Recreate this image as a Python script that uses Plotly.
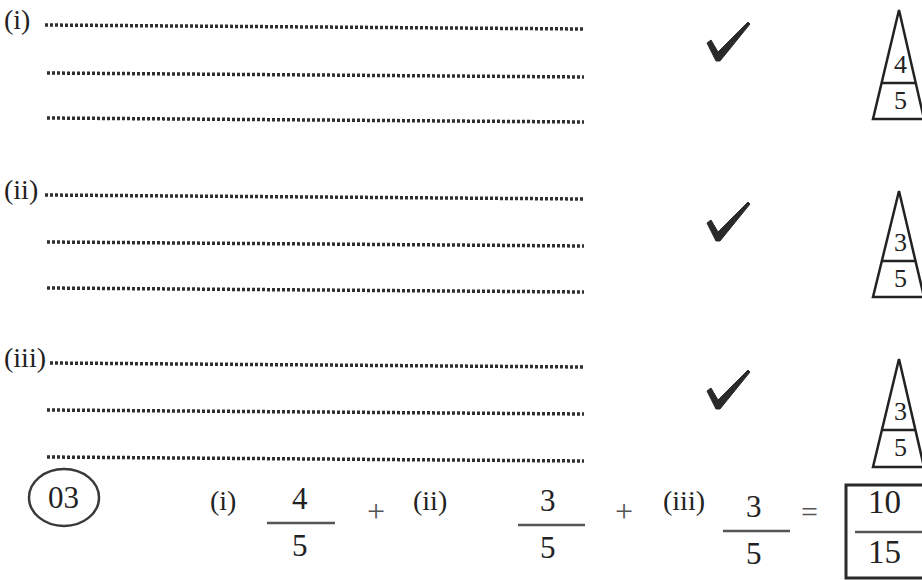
import plotly.graph_objects as go

# ---- data read from the scanned marking sheet ----
row_labels = ["(i)", "(ii)", "(iii)"]
marks_awarded = [4, 3, 3]
marks_max = [5, 5, 5]
total_awarded = 10
total_max = 15
question_no = "03"

W, H = 922, 580
INK = "#222222"
FONT = "Liberation Serif"

fig = go.Figure()
shapes = []
annotations = []

# layout geometry for each answer row (pixel space)
row_label_y = [19, 189, 357]
row_line_y = [[25, 73, 118], [195, 242, 288], [363, 410, 457]]
row_tick_y = [22, 202, 370]
row_tri_top = [10, 191, 359]
row_tri_base = [119, 297, 467]
row_tri_div = [83, 261, 430]

for i, lab in enumerate(row_labels):
    annotations.append(dict(x=2, y=row_label_y[i], text=lab, xanchor="left", yanchor="middle",
                            showarrow=False, font=dict(family=FONT, size=28, color=INK)))
    for j, ly in enumerate(row_line_y[i]):
        x0 = 47
        if j == 0:
            x0 = [45, 45, 50][i]
        shapes.append(dict(type="line", x0=x0, y0=ly, x1=584, y1=ly + 4,
                           line=dict(color="#2e2e2e", width=3.5, dash="3px,2px")))
    # check mark
    ty = row_tick_y[i]
    path = (f"M 707 {ty+21} L 711 {ty+18} L 718 {ty+30} L 748 {ty} L 750 {ty+2} "
            f"L 720 {ty+39} L 716 {ty+39} Z")
    shapes.append(dict(type="path", path=path, fillcolor="#2a2a2a",
                       line=dict(color="#2a2a2a", width=1)))
    # triangle mark box
    top, base, div = row_tri_top[i], row_tri_base[i], row_tri_div[i]
    apex_x = 899
    lx, rx = 873, 924
    shapes.append(dict(type="path",
                       path=f"M {apex_x} {top} L {lx} {base} L {rx} {base} Z",
                       line=dict(color="#222222", width=2.5)))
    # divider across the triangle
    frac = (div - top) / (base - top)
    dlx = apex_x + (lx - apex_x) * frac
    drx = apex_x + (rx - apex_x) * frac
    shapes.append(dict(type="line", x0=dlx, y0=div, x1=drx, y1=div,
                       line=dict(color="#222222", width=2.5)))
    annotations.append(dict(x=900, y=div - 19, text=str(marks_awarded[i]), showarrow=False,
                            font=dict(family=FONT, size=26, color=INK)))
    annotations.append(dict(x=900, y=div + 17, text=str(marks_max[i]), showarrow=False,
                            font=dict(family=FONT, size=26, color=INK)))

# ---- summary line ----
shapes.append(dict(type="circle", x0=29, y0=469, x1=99, y1=526,
                   line=dict(color="#3a3a3a", width=2.5)))
annotations.append(dict(x=63, y=497, text=question_no, showarrow=False,
                        font=dict(family=FONT, size=31, color=INK)))

part_label_x = [223, 430, 684]
frac_x = [300, 548, 754]
frac_bar = [(267, 335, 523), (518, 585, 525), (723, 790, 531)]
for i, lab in enumerate(row_labels):
    annotations.append(dict(x=part_label_x[i], y=500, text=lab, showarrow=False,
                            font=dict(family=FONT, size=28, color=INK)))
    x0, x1, by = frac_bar[i]
    shapes.append(dict(type="line", x0=x0, y0=by, x1=x1, y1=by,
                       line=dict(color="#555555", width=2.5)))
    annotations.append(dict(x=frac_x[i], y=by - 25, text=str(marks_awarded[i]), showarrow=False,
                            font=dict(family=FONT, size=31, color=INK)))
    annotations.append(dict(x=frac_x[i], y=by + 22, text=str(marks_max[i]), showarrow=False,
                            font=dict(family=FONT, size=31, color=INK)))

for px in [376, 624]:
    annotations.append(dict(x=px, y=511, text="+", showarrow=False,
                            font=dict(family=FONT, size=32, color="#555555")))
annotations.append(dict(x=809, y=511, text="=", showarrow=False,
                        font=dict(family=FONT, size=30, color="#555555")))

# total box
shapes.append(dict(type="rect", x0=846, y0=485, x1=926, y1=578,
                   line=dict(color="#2a2a2a", width=3)))
shapes.append(dict(type="line", x0=855, y0=532, x1=922, y1=532,
                   line=dict(color="#555555", width=2.5)))
annotations.append(dict(x=884, y=502, text=str(total_awarded), showarrow=False,
                        font=dict(family=FONT, size=33, color=INK)))
annotations.append(dict(x=884, y=552, text=str(total_max), showarrow=False,
                        font=dict(family=FONT, size=33, color=INK)))

for a in annotations:
    a.setdefault("xref", "x")
    a.setdefault("yref", "y")
for s in shapes:
    s.setdefault("xref", "x")
    s.setdefault("yref", "y")

fig.update_layout(
    width=W, height=H,
    margin=dict(l=0, r=0, t=0, b=0),
    paper_bgcolor="white", plot_bgcolor="white",
    xaxis=dict(range=[0, W], visible=False, fixedrange=True),
    yaxis=dict(range=[H, 0], visible=False, fixedrange=True),
    shapes=shapes, annotations=annotations, showlegend=False,
)
fig.write_html("out.html", config={"displayModeBar": False},
               post_script="document.body.style.margin='0';document.body.style.overflow='hidden';")
